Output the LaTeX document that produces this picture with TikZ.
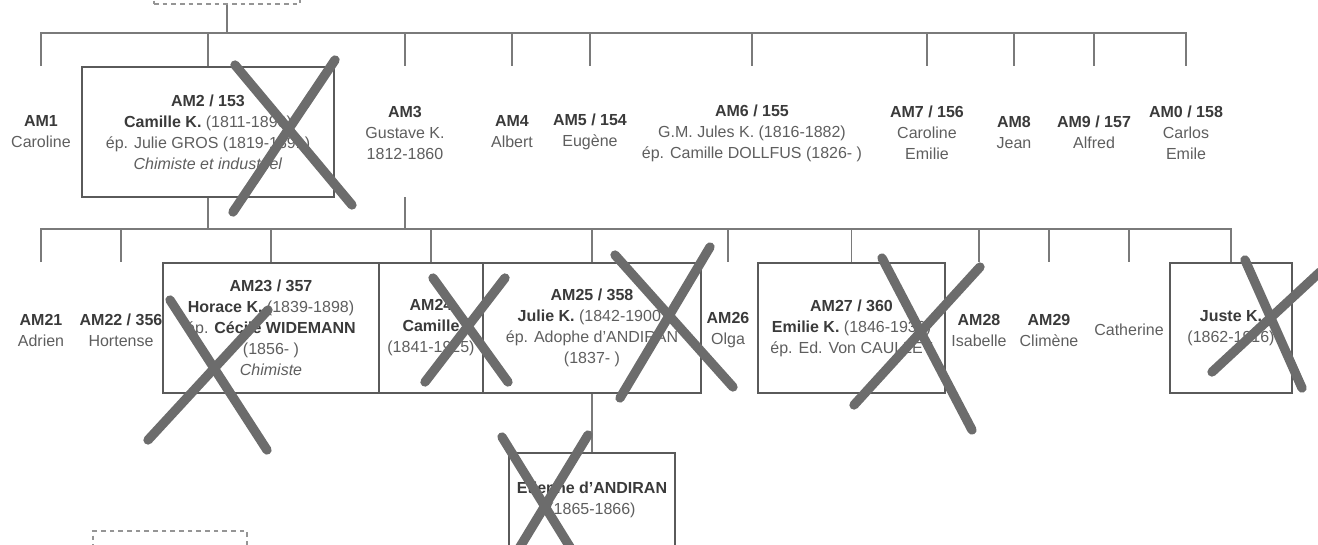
\documentclass[tikz,border=0pt]{standalone}
\usepackage{fontspec}
\setmainfont{Liberation Sans}
\definecolor{txt}{HTML}{5e5e5e}
\definecolor{txtb}{HTML}{3a3a3a}
\definecolor{ln}{HTML}{7a7a7a}
\definecolor{bx}{HTML}{5a5a5a}
\definecolor{xc}{HTML}{6c6c6c}
\newcommand{\bld}[1]{{\color{txtb}\bfseries #1}}
\tikzset{
  lbl/.style={align=center, inner sep=0pt, text=txt, font=\fontsize{12}{15.75}\selectfont},
  pbox/.style={lbl, draw=bx, line width=1.1pt, minimum height=97.5pt},
  conn/.style={draw=ln, line width=1.1pt},
  xmark/.style={draw=xc, line width=7pt, line cap=round},
  dbox/.style={draw=ln!80, dash pattern=on 3.5pt off 3pt, line width=0.8pt, inner sep=0pt}
}
\begin{document}
\begin{tikzpicture}[x=0.75pt,y=-0.75pt]
\useasboundingbox (0,0) rectangle (1318,544);
% helper coordinates
\coordinate (b1) at (0,33);
\coordinate (d1) at (0,66);
\coordinate (b2) at (0,229);
\coordinate (d2) at (0,262);
\coordinate (u3) at (0,197);
% dashed boxes (cut by the frame)
\node[dbox, minimum width=109.5pt, minimum height=51pt] (top) at (227,-30) {};
\node[dbox, minimum width=115.5pt, minimum height=45pt] (low) at (170,561) {};
% row 1
\node[lbl] (am1) at (41,132) {\bld{AM1}\\Caroline};
\node[pbox, minimum width=189pt] (am2) at (208,132) {\bld{AM2 / 153}\\\bld{Camille K.} (1811-1890)\\ép. Julie GROS (1819-1891)\\\textit{Chimiste et industriel}};
\node[lbl] (am3) at (405,133) {\bld{AM3}\\Gustave K.\\1812-1860};
\node[lbl] (am4) at (512,132) {\bld{AM4}\\Albert};
\node[lbl] (am5) at (590,132) {\bld{AM5 / 154}\\Eugène};
\node[lbl] (am6) at (752,133) {\bld{AM6 / 155}\\G.M. Jules K. (1816-1882)\\ép. Camille DOLLFUS (1826- )};
\node[lbl] (am7) at (927,133) {\bld{AM7 / 156}\\Caroline\\Emilie};
\node[lbl] (am8) at (1014,132) {\bld{AM8}\\Jean};
\node[lbl] (am9) at (1094,132) {\bld{AM9 / 157}\\Alfred};
\node[lbl] (am0) at (1186,133) {\bld{AM0 / 158}\\Carlos\\Emile};
% row 2
\node[lbl] (am21) at (41,330) {\bld{AM21}\\Adrien};
\node[lbl] (am22) at (121,330) {\bld{AM22 / 356}\\Hortense};
\node[pbox, minimum width=162pt] (am23) at (271,328) {\bld{AM23 / 357}\\\bld{Horace K.} (1839-1898)\\ép. \bld{Cécile WIDEMANN}\\(1856- )\\\textit{Chimiste}};
\node[pbox, minimum width=78pt] (am24) at (431,328) {\bld{AM24}\\\bld{Camille}\\(1841-1925)};
\node[pbox, minimum width=163.5pt] (am25) at (592,328) {\bld{AM25 / 358}\\\bld{Julie K.} (1842-1900)\\ép. Adophe d’ANDIRAN\\(1837- )};
\node[lbl] (am26) at (728,330) {\bld{AM26}\\Olga};
\node[pbox, minimum width=140pt] (am27) at (851.5,328) {\bld{AM27 / 360}\\\bld{Emilie K.} (1846-1930)\\ép. Ed. Von CAULLET};
\node[lbl] (am28) at (979,330) {\bld{AM28}\\Isabelle};
\node[lbl] (am29) at (1049,330) {\bld{AM29}\\Climène};
\node[lbl] (cath) at (1129,330) {Catherine};
\node[pbox, minimum width=91.5pt] (juste) at (1231,328) {\bld{Juste K.}\\(1862-1916)};
% row 3
\node[pbox, minimum width=124.5pt, minimum height=70.5pt] (eti) at (592,500) {\bld{Etienne d’ANDIRAN}\\(1865-1866)};
% connectors row 1
\draw[conn] (top.south) -- (top.south |- b1);
\draw[conn] (am1 |- d1) -- (am1 |- b1) -- (am0 |- b1) -- (am0 |- d1);
\foreach \n in {am3,am4,am5,am6,am7,am8,am9} \draw[conn] (\n |- b1) -- (\n |- d1);
\draw[conn] (am2 |- b1) -- (am2.north);
% connectors row 2
\draw[conn] (am2.south) -- (am2.south |- b2);
\draw[conn] (am3 |- u3) -- (am3 |- b2);
\draw[conn] (am21 |- d2) -- (am21 |- b2) -- (juste |- b2) -- (juste.north);
\foreach \n in {am22,am26,am28,am29,cath} \draw[conn] (\n |- b2) -- (\n |- d2);
\foreach \n in {am23,am24,am25,am27} \draw[conn] (\n |- b2) -- (\n.north);
\draw[conn] (am25.south) -- (eti.north);
% crosses
\draw[xmark] (235,65) -- (352,205);
\draw[xmark] (335,60) -- (233,212);
\draw[xmark] (170,300) -- (267,450);
\draw[xmark] (268,310) -- (148,440);
\draw[xmark] (433,278) -- (508,382);
\draw[xmark] (505,278) -- (425,382);
\draw[xmark] (615,255) -- (733,387);
\draw[xmark] (710,247) -- (620,398);
\draw[xmark] (882,258) -- (972,430);
\draw[xmark] (980,267) -- (854,405);
\draw[xmark] (1245,260) -- (1302,388);
\draw[xmark] (1320,272) -- (1212,372);
\draw[xmark] (502,437) -- (578,560);
\draw[xmark] (588,435) -- (512,560);
\end{tikzpicture}
\end{document}
